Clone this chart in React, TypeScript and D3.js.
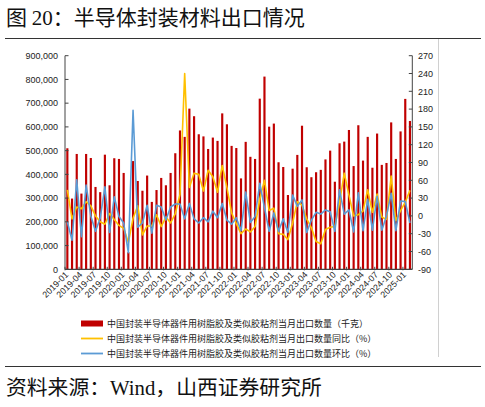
import React from "react";
import * as d3 from "d3";

const months: string[] = (() => {
  const out: string[] = [];
  for (let y = 2019; y <= 2025; y++) {
    for (let m = 1; m <= 12; m++) {
      if (y === 2025 && m > 2) break;
      out.push(`${y}-${m < 10 ? "0" + m : m}`);
    }
  }
  return out;
})();

// 当月出口数量（千克）
const exportQty: number[] = [
  510000, 298000, 486000, 319000, 486000, 469000, 347000, 325000, 483000, 354000, 468000, 465000,
  406000, 72000, 456000, 372000, 331000, 395000, 284000, 334000, 385000, 354000, 406000, 489000,
  585000, 558000, 677000, 645000, 569000, 560000, 507000, 555000, 541000, 657000, 611000, 520000,
  511000, 383000, 537000, 474000, 465000, 719000, 812000, 601000, 614000, 451000, 431000, 313000,
  424000, 482000, 605000, 430000, 388000, 409000, 419000, 463000, 500000, 369000, 531000, 538000,
  587000, 435000, 607000, 458000, 558000, 428000, 572000, 440000, 448000, 619000, 465000, 581000,
  718000, 625000,
];

// 同比（%）
const yoy: number[] = [
  44, -5, 15, 12, 24, 17, 0, -10, -14, 4, -6, -16,
  -21, -45, -4, 17, -32, -17, -17, 2, -18, -2, -12, 4,
  36, 240, 48, 72, 70, 42, 77, 66, 40, 85, 48, 5,
  -13, -30, -22, -27, -18, 28, 60, 9, 13, -30, -31, -40,
  -12, 24, 18, -5, -20, -43, -47, -23, -19, -18, 23, 72,
  35, 0, 2, 8, 44, 6, 37, -2, -6, 67, -8, 9,
  23, 43,
];

// 环比（%）
const mom: number[] = [
  -10, -41, 61, -35, 52, 0, -26, -4, 49, -28, 32, -1,
  -12, -62, 178, -19, -12, 18, -29, 18, 15, -7, 15, 20,
  20, -5, 21, -5, -12, -3, -10, 8, -3, 21, -7, -14,
  -3, -25, 40, -11, -1, 55, 14, -26, 5, -26, -5, -28,
  35, 16, 27, -28, -7, 6, 3, 10, 7, -26, 44, 3,
  10, -27, 39, -25, 28, -24, 33, -24, 0, 38, -25, 25,
  24, -12,
];

const leftTicks: number[] = [0, 100000, 200000, 300000, 400000, 500000, 600000, 700000, 800000, 900000];
const rightTicks: number[] = [-90, -60, -30, 0, 30, 60, 90, 120, 150, 180, 210, 240, 270];
const xLabels: string[] = months.filter((_, i) => i % 3 === 0);

const legendItems: { label: string; kind: string }[] = [
  { label: "中国封装半导体器件用树脂胶及类似胶粘剂当月出口数量（千克）", kind: "bar" },
  { label: "中国封装半导体器件用树脂胶及类似胶粘剂当月出口数量同比（%）", kind: "yoy" },
  { label: "中国封装半导体器件用树脂胶及类似胶粘剂当月出口数量环比（%）", kind: "mom" },
];

const RED = "#C00000";
const YELLOW = "#FFC000";
const BLUE = "#5B9BD5";
const CJK = "'Noto Sans CJK SC', 'Noto Sans', sans-serif";
const NUM = "'Liberation Sans', Arial, sans-serif";

export default function App() {
  const W = 485;
  const H = 407;
  const x0 = 65;
  const x1 = 412.3;
  const yTop = 55.7;
  const yBot = 269.3;

  const x = d3.scaleBand<string>().domain(months).range([x0, x1]).padding(0);
  const yL = d3.scaleLinear().domain([0, 900000]).range([yBot, yTop]);
  const yR = d3.scaleLinear().domain([-90, 270]).range([yBot, yTop]);
  const bw = x.bandwidth();
  const cx = (m: string) => (x(m) as number) + bw / 2;
  const barW = bw * 0.46;

  const lineYoy = d3
    .line<number>()
    .x((_, i) => cx(months[i]))
    .y((d) => yR(d));
  const lineMom = d3
    .line<number>()
    .x((_, i) => cx(months[i]))
    .y((d) => yR(d));

  const fmt = d3.format(",");

  return (
    <svg
      width={W}
      height={H}
      viewBox={`0 0 ${W} ${H}`}
      style={{ position: "absolute", left: 0, top: 0, background: "#fff" }}
    >
      <rect x={0} y={0} width={W} height={H} fill="#fff" />
      {/* Title */}
      <text x={6} y={25} fontSize={21} fill="#111" fontFamily={CJK}>
        <tspan>图 </tspan>
        <tspan fontFamily="'Liberation Serif', serif">20</tspan>
        <tspan>：半导体封装材料出口情况</tspan>
      </text>
      <line x1={5} x2={481} y1={38.5} y2={38.5} stroke="#333" strokeWidth={1} />
      <line x1={438.5} x2={438.5} y1={39} y2={357} stroke="#d0d0d0" strokeWidth={1} />

      {/* Bars */}
      {exportQty.map((v, i) => (
        <rect
          key={"b" + i}
          x={cx(months[i]) - barW / 2}
          y={yL(v)}
          width={barW}
          height={yBot - yL(v)}
          fill={RED}
        />
      ))}

      {/* Lines */}
      <path d={lineYoy(yoy) || ""} fill="none" stroke={YELLOW} strokeWidth={1.6} strokeLinejoin="round" />
      <path d={lineMom(mom) || ""} fill="none" stroke={BLUE} strokeWidth={1.6} strokeLinejoin="round" />

      {/* Left axis */}
      <line x1={x0} x2={x0} y1={yTop} y2={yBot} stroke="#444" strokeWidth={1} />
      {leftTicks.map((t) => (
        <g key={"l" + t}>
          <line x1={x0} x2={x0 + 3.5} y1={yL(t)} y2={yL(t)} stroke="#444" strokeWidth={1} />
          <text x={58} y={yL(t) + 3.2} fontSize={9} textAnchor="end" fill="#222" fontFamily={NUM}>
            {fmt(t)}
          </text>
        </g>
      ))}

      {/* Right axis */}
      <line x1={x1} x2={x1} y1={yTop} y2={yBot} stroke="#444" strokeWidth={1} />
      {rightTicks.map((t) => (
        <g key={"r" + t}>
          <line x1={x1 - 3.5} x2={x1} y1={yR(t)} y2={yR(t)} stroke="#444" strokeWidth={1} />
          <text x={418} y={yR(t) + 3.2} fontSize={9} textAnchor="start" fill="#222" fontFamily={NUM}>
            {t}
          </text>
        </g>
      ))}

      {/* X axis */}
      <line x1={x0} x2={x1} y1={yBot} y2={yBot} stroke="#444" strokeWidth={1.2} />
      {months.map((m, i) =>
        i % 3 === 0 ? (
          <line
            key={"t" + m}
            x1={x(m) as number}
            x2={x(m) as number}
            y1={yBot - 2.5}
            y2={yBot + 1}
            stroke="#444"
            strokeWidth={1}
          />
        ) : null
      )}
      {xLabels.map((m) => (
        <text
          key={"x" + m}
          transform={`translate(${cx(m) + 1.5},${yBot + 6}) rotate(-45)`}
          fontSize={8.8}
          textAnchor="end"
          fill="#222"
          fontFamily={NUM}
        >
          {m}
        </text>
      ))}

      {/* Legend */}
      {legendItems.map((it, i) => {
        const ly = 323.5 + i * 15;
        return (
          <g key={"lg" + i}>
            {it.kind === "bar" ? (
              <rect x={81} y={ly - 3} width={22} height={6} fill={RED} />
            ) : (
              <line
                x1={81}
                x2={103}
                y1={ly}
                y2={ly}
                stroke={it.kind === "yoy" ? YELLOW : BLUE}
                strokeWidth={1.8}
              />
            )}
            <text x={107} y={ly + 3.3} fontSize={9} fill="#222" fontFamily={CJK}>
              {it.label}
            </text>
          </g>
        );
      })}

      {/* Source */}
      <line x1={5} x2={481} y1={366.5} y2={366.5} stroke="#333" strokeWidth={1.2} />
      <text x={6} y={395} fontSize={20.8} fill="#111" fontFamily={CJK}>
        <tspan>资料来源：</tspan>
        <tspan fontFamily="'Liberation Serif', serif">Wind</tspan>
        <tspan>，山西证券研究所</tspan>
      </text>
    </svg>
  );
}
